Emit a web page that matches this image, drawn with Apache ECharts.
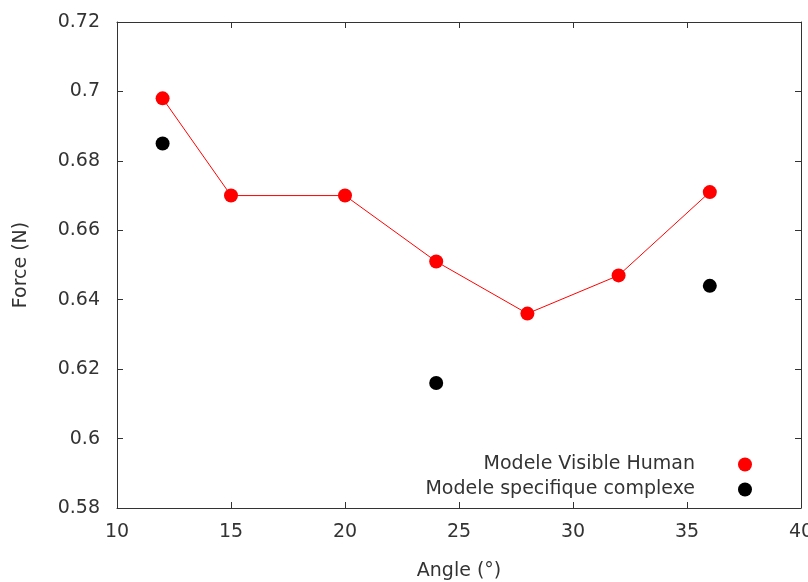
<!DOCTYPE html>
<html><head><meta charset="utf-8">
<script src="https://cdn.jsdelivr.net/npm/echarts@6/dist/echarts.min.js"></script>
<style>html,body{margin:0;padding:0;background:#fff;overflow:hidden}#c{width:808px;height:582px}</style>
</head><body><div id="c"></div>
<script>
const visibleX = [12, 15, 20, 24, 28, 32, 36];
const visibleY = [0.698, 0.670, 0.670, 0.651, 0.636, 0.647, 0.671];
const specX = [12, 24, 36];
const specY = [0.685, 0.616, 0.644];
const seriesNames = ['Modele Visible Human', 'Modele specifique complexe'];
const xTitle = 'Angle (°)';
const yTitle = 'Force (N)';

const font = 'DejaVu Sans';
const txt = '#333';
const chart = echarts.init(document.getElementById('c'));
const axisCommon = {
  axisLine: {show: true, onZero: false, lineStyle: {color: '#333', width: 1}},
  axisTick: {show: true, inside: true, length: 6, lineStyle: {color: '#333'}},
  splitLine: {show: false}
};
chart.setOption({
  animation: false,
  textStyle: {fontFamily: font},
  grid: {left: 117, right: 7, top: 22, bottom: 74, containLabel: false, outerBoundsMode: 'none'},
  legend: {
    orient: 'vertical', right: 51, top: 450, align: 'right',
    itemWidth: 90, itemHeight: 14, itemGap: 6,
    textStyle: {fontFamily: font, fontSize: 19, color: txt},
    data: [{name: seriesNames[0], icon: 'circle'}, {name: seriesNames[1], icon: 'circle'}]
  },
  xAxis: [
    Object.assign({type: 'value', min: 10, max: 40, interval: 5, position: 'bottom',
      name: xTitle, nameLocation: 'middle', nameGap: 54,
      nameTextStyle: {fontFamily: font, fontSize: 19, color: txt},
      axisLabel: {fontFamily: font, fontSize: 19, color: txt, margin: 15}}, axisCommon),
    Object.assign({type: 'value', min: 10, max: 40, interval: 5, position: 'top',
      axisLabel: {show: false}}, axisCommon)
  ],
  yAxis: [
    Object.assign({type: 'value', min: 0.58, max: 0.72, interval: 0.02, position: 'left',
      name: yTitle, nameLocation: 'middle', nameGap: 86, nameRotate: 90,
      nameTextStyle: {fontFamily: font, fontSize: 19, color: txt},
      axisLabel: {fontFamily: font, fontSize: 19, color: txt, margin: 17,
        formatter: v => String(parseFloat(v.toFixed(2)))}}, axisCommon),
    Object.assign({type: 'value', min: 0.58, max: 0.72, interval: 0.02, position: 'right',
      axisLabel: {show: false}}, axisCommon)
  ],
  series: [
    {name: seriesNames[0], type: 'line', data: visibleX.map((x, i) => [x, visibleY[i]]),
      symbol: 'circle', symbolSize: 14, showSymbol: true,
      lineStyle: {color: '#ff0000', width: 1}, itemStyle: {color: '#ff0000', opacity: 1}},
    {name: seriesNames[1], type: 'scatter', data: specX.map((x, i) => [x, specY[i]]),
      symbol: 'circle', symbolSize: 14, itemStyle: {color: '#000000', opacity: 1}}
  ]
});
</script></body></html>
